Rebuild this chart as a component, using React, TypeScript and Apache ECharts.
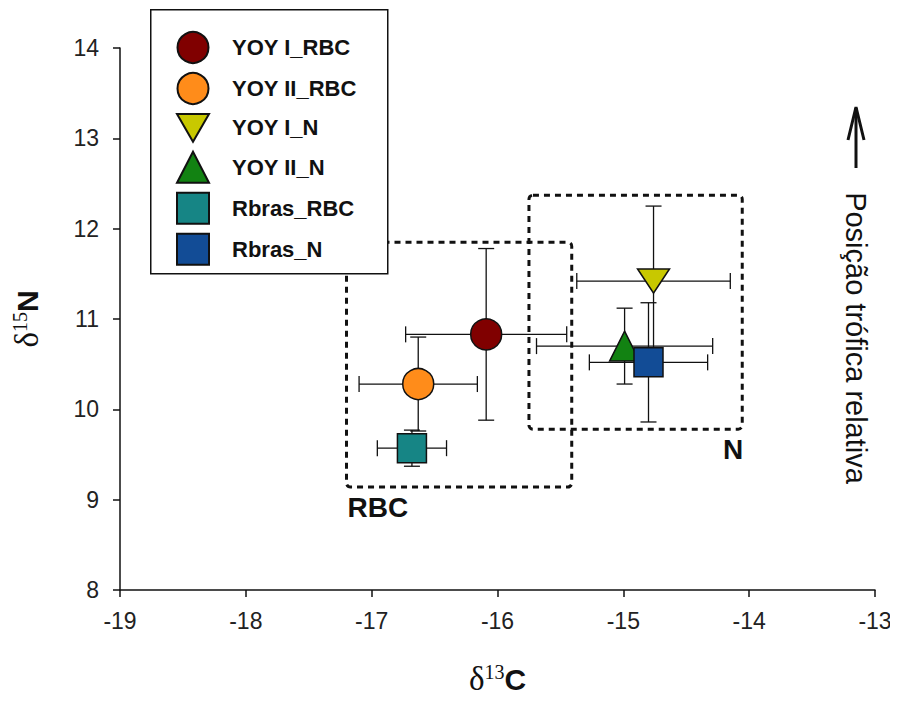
import React, { useEffect, useRef } from "react";
import * as echarts from "echarts";

const seriesNames = ["YOY I_RBC", "YOY II_RBC", "YOY I_N", "YOY II_N", "Rbras_RBC", "Rbras_N"];
const d13C = [-16.09, -16.63, -14.76, -14.99, -16.68, -14.8];
const d15N = [10.83, 10.28, 11.42, 10.7, 9.57, 10.52];
const errC = [0.64, 0.47, 0.61, 0.7, 0.275, 0.47];
const errN = [0.95, 0.52, 0.83, 0.42, 0.2, 0.66];
const colors = ["#800000", "#FF8C1A", "#C8C800", "#128212", "#168585", "#124C96"];
const DOWN_TRI = "path://M0,0L20,0L10,17.3Z";
const symbols = ["circle", "circle", DOWN_TRI, "triangle", "rect", "rect"];
const sizes: any[] = [31, 31, [32, 28], 30, 29, 29];

const boxNames = ["RBC", "N"];
const boxXMin = [-17.2, -15.75];
const boxXMax = [-15.41, -14.055];
const boxYMin = [9.14, 9.78];
const boxYMax = [11.85, 12.37];

const xMin = -19, xMax = -13, yMin = 8, yMax = 14;

const SANS = "Liberation Sans, Arial, sans-serif";
const SERIF = "Liberation Serif, Times New Roman, serif";

export default function App() {
  const ref = useRef<HTMLDivElement>(null);
  useEffect(() => {
    if (!ref.current) return;
    const chart = echarts.init(ref.current, null, { renderer: "svg" });
    const errData = d13C.map((x, i) => [x, d15N[i], errC[i], errN[i]]);
    const boxData = boxNames.map((n, i) => [boxXMin[i], boxYMin[i], boxXMax[i], boxYMax[i], i]);
    const cap = 8;
    const titleRich = {
      d: { fontFamily: SERIF, fontSize: 33, lineHeight: 34, color: "#111" },
      s: { fontFamily: SERIF, fontSize: 20, lineHeight: 20, verticalAlign: "top", color: "#111" },
      c: { fontFamily: SANS, fontWeight: "bold", fontSize: 30, lineHeight: 34, color: "#111" },
    };
    const option: any = {
      animation: false,
      backgroundColor: "#fff",
      textStyle: { fontFamily: SANS },
      grid: { left: 120, right: 23, top: 48, bottom: 111, containLabel: false },
      xAxis: {
        type: "value", min: xMin, max: xMax, interval: 1,
        name: "{d|δ}{s|13}{c|C}", nameLocation: "middle", nameGap: 72,
        nameTextStyle: { rich: titleRich },
        axisLine: { show: true, onZero: false, lineStyle: { color: "#111", width: 1.5 } },
        axisTick: { show: true, inside: false, length: 7, lineStyle: { color: "#111", width: 1.5 } },
        axisLabel: { fontSize: 23, color: "#222", margin: 19, fontFamily: SANS },
        splitLine: { show: false },
      },
      yAxis: {
        type: "value", min: yMin, max: yMax, interval: 1,
        name: "{d|δ}{s|15}{c|N}", nameLocation: "middle", nameGap: 76, nameRotate: 90,
        nameTextStyle: { rich: titleRich },
        axisLine: { show: true, onZero: false, lineStyle: { color: "#111", width: 1.5 } },
        axisTick: { show: true, inside: false, length: 7, lineStyle: { color: "#111", width: 1.5 } },
        axisLabel: { fontSize: 23, color: "#222", margin: 21, fontFamily: SANS },
        splitLine: { show: false },
      },
      legend: {
        show: true,
        orient: "vertical",
        left: 176, top: 31,
        padding: 0,
        itemGap: 8,
        itemWidth: 32, itemHeight: 31,
        z: 120,
        data: seriesNames,
        textStyle: { fontSize: 22, fontWeight: "bold", color: "#111", padding: [0, 0, 0, 18], fontFamily: SANS },
      },
      graphic: [
        { type: "rect", left: 150, top: 9, z: 100, shape: { width: 237, height: 264 }, style: { fill: "#fff", stroke: "#111", lineWidth: 1.5 } },
        {
          type: "text", x: 856, y: 338, rotation: -Math.PI / 2, z: 100,
          style: { text: "Posição trófica relativa", fontSize: 29, fill: "#111", align: "center", verticalAlign: "middle", fontFamily: SANS },
        },
        { type: "line", z: 100, shape: { x1: 856, y1: 168, x2: 856, y2: 108 }, style: { stroke: "#111", lineWidth: 3 } },
        { type: "polyline", z: 100, shape: { points: [[848, 140], [856, 107], [864, 140]] }, style: { stroke: "#111", lineWidth: 3, fill: null } },
      ],
      series: [
        {
          type: "custom",
          name: "boxes",
          z: 1,
          silent: true,
          data: boxData,
          encode: { x: [0, 2], y: [1, 3] },
          renderItem: (params: any, api: any) => {
            const p1 = api.coord([api.value(0), api.value(3)]);
            const p2 = api.coord([api.value(2), api.value(1)]);
            const idx = api.value(4);
            const label = boxNames[idx];
            const isLeft = idx === 0;
            return {
              type: "group",
              children: [
                {
                  type: "rect",
                  shape: { x: p1[0], y: p1[1], width: p2[0] - p1[0], height: p2[1] - p1[1], r: 4 },
                  style: { fill: "none", stroke: "#111", lineWidth: 3, lineDash: [6, 5] },
                },
                {
                  type: "text",
                  x: isLeft ? p1[0] + 1 : p2[0] + 1,
                  y: p2[1] + 6,
                  style: { text: label, fontSize: 28, fontWeight: "bold", fill: "#111", align: isLeft ? "left" : "right", verticalAlign: "top", fontFamily: SANS },
                },
              ],
            };
          },
        },
        {
          type: "custom",
          name: "errors",
          z: 2,
          silent: true,
          data: errData,
          encode: { x: 0, y: 1 },
          renderItem: (params: any, api: any) => {
            const x = api.value(0), y = api.value(1), ex = api.value(2), ey = api.value(3);
            const l = api.coord([x - ex, y]);
            const r = api.coord([x + ex, y]);
            const t = api.coord([x, y + ey]);
            const b = api.coord([x, y - ey]);
            const st = { stroke: "#111", lineWidth: 1.3 };
            return {
              type: "group",
              children: [
                { type: "line", shape: { x1: l[0], y1: l[1], x2: r[0], y2: r[1] }, style: st },
                { type: "line", shape: { x1: t[0], y1: t[1], x2: b[0], y2: b[1] }, style: st },
                { type: "line", shape: { x1: l[0], y1: l[1] - cap, x2: l[0], y2: l[1] + cap }, style: st },
                { type: "line", shape: { x1: r[0], y1: r[1] - cap, x2: r[0], y2: r[1] + cap }, style: st },
                { type: "line", shape: { x1: t[0] - cap, y1: t[1], x2: t[0] + cap, y2: t[1] }, style: st },
                { type: "line", shape: { x1: b[0] - cap, y1: b[1], x2: b[0] + cap, y2: b[1] }, style: st },
              ],
            };
          },
        },
        ...seriesNames.map((name, i) => ({
          type: "scatter",
          name,
          z: 3 + i,
          symbol: symbols[i],
          symbolSize: sizes[i],
          symbolKeepAspect: true,
          itemStyle: { color: colors[i], borderColor: "#111", borderWidth: 1.5, opacity: 1 },
          data: [[d13C[i], d15N[i]]],
        })),
      ],
    };
    chart.setOption(option);
    return () => chart.dispose();
  }, []);
  return <div ref={ref} style={{ width: 898, height: 701, margin: -8 }} />;
}
